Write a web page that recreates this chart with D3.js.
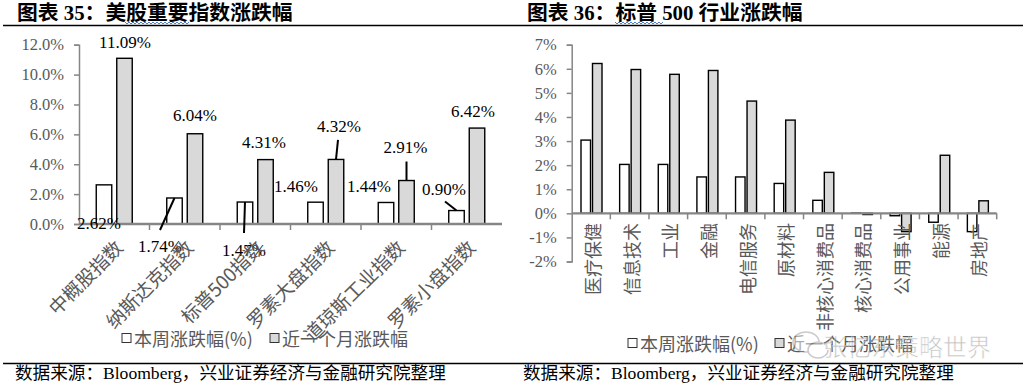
<!DOCTYPE html>
<html lang="zh">
<head>
<meta charset="UTF-8">
<title>美股重要指数涨跌幅 / 标普500行业涨跌幅</title>
<script src="https://d3js.org/d3.v7.min.js"></script>
<style>
    body {
        margin: 0;
        background: #fff;
    }
    .title {
        font-family: "Liberation Serif", "Noto Sans CJK SC", serif;
        font-size: 20.8px;
        font-weight: bold;
    }
    .source {
        font-family: "Liberation Serif", "Noto Sans CJK SC", serif;
        font-size: 17.6px;
    }
    .tick text {
        font-family: "Liberation Serif", serif;
        font-size: 16.5px;
        fill: #595959;
    }
    .catLabel, .legend {
        font-family: "Noto Sans CJK SC", sans-serif;
        fill: #595959;
    }
    .valLabel {
        font-family: "Liberation Serif", serif;
        font-size: 17px;
        text-anchor: middle;
    }
</style>
</head>
<body>
<script>
    // ---- data ----
    const indexNames = ["中概股指数", "纳斯达克指数", "标普500指数", "罗素大盘指数", "道琼斯工业指数", "罗素小盘指数"];
    const indexWeek = [2.62, 1.74, 1.47, 1.46, 1.44, 0.90];
    const indexMonth = [11.09, 6.04, 4.31, 4.32, 2.91, 6.42];

    const sectorNames = ["医疗保健", "信息技术", "工业", "金融", "电信服务", "原材料", "非核心消费品", "核心消费品", "公用事业", "能源", "房地产"];
    const sectorWeek = [3.04, 2.03, 2.03, 1.51, 1.51, 1.24, 0.54, 0.01, -0.10, -0.37, -0.76];
    const sectorMonth = [6.22, 5.97, 5.77, 5.93, 4.66, 3.87, 1.70, -0.05, -0.76, 2.41, 0.52];

    const seriesNames = ["本周涨跌幅(%)", "近一个月涨跌幅"];
    const leftTicks = [0, 2, 4, 6, 8, 10, 12];
    const rightTicks = [-2, -1, 0, 1, 2, 3, 4, 5, 6, 7];

    // label placement for the left chart (offset from bar top, leader start)
    const weekLabelPos = [
        { dx: -5, dy: 39 }, { dx: -14.5, dy: 48.7, lead: [-14.5, 32] }, { dx: -1, dy: 48, lead: [-1, 31] },
        { dx: -19.5, dy: -15.5 }, { dx: -17, dy: -16 }, { dx: -12.5, dy: -20.6, lead: [-11.5, -9] }
    ];
    const monthLabelPos = [
        { dx: 0.5, dy: -16 }, { dx: 0, dy: -18 }, { dx: -1.5, dy: -17 },
        { dx: 3, dy: -32.6, lead: [2, -19.6] }, { dx: -1, dy: -32.6, lead: [0, -19] }, { dx: -4, dy: -17 }
    ];

    const svg = d3.select("body").append("svg")
        .attr("width", 1033)
        .attr("height", 392);

    const axisColor = "#868686";
    const greyFill = "#d9d9d9";

    // ---- frame: titles, rules, source ----
    svg.append("text").attr("class", "title").attr("x", 17).attr("y", 20).text("图表 35：美股重要指数涨跌幅");
    svg.append("text").attr("class", "title").attr("x", 527).attr("y", 20).text("图表 36：标普 500 行业涨跌幅");

    function squiggle(x0, x1, y) {
        let d = "M" + x0 + "," + y;
        for (let x = x0; x < x1; x += 4) {
            d += " L" + (x + 2) + "," + (y + 2) + " L" + (x + 4) + "," + y;
        }
        svg.append("path").attr("d", d).attr("fill", "none")
            .attr("stroke", "#4f81d6").attr("stroke-width", 1);
    }
    squiggle(125, 188, 22);
    squiggle(615, 660, 22);

    svg.append("line").attr("x1", 3).attr("x2", 1023).attr("y1", 25.5).attr("y2", 25.5)
        .attr("stroke", "#000").attr("stroke-width", 1.5);
    svg.append("line").attr("x1", 3).attr("x2", 1023).attr("y1", 363.5).attr("y2", 363.5)
        .attr("stroke", "#000").attr("stroke-width", 1.5);

    svg.append("text").attr("class", "source").attr("x", 15).attr("y", 379)
        .text("数据来源：Bloomberg，兴业证券经济与金融研究院整理");
    svg.append("text").attr("class", "source").attr("x", 523).attr("y", 379)
        .text("数据来源：Bloomberg，兴业证券经济与金融研究院整理");

    // ---- shared helpers ----
    function drawYAxis(y, x0, ticks, fmt) {
        const g = svg.append("g")
            .attr("transform", "translate(" + x0 + ",0)")
            .call(d3.axisLeft(y).tickValues(ticks).tickFormat(fmt).tickSize(5).tickPadding(10));
        g.select(".domain").attr("stroke", axisColor).attr("stroke-width", 1.5);
        g.selectAll(".tick line").attr("stroke", axisColor).attr("stroke-width", 1.5);
        return g;
    }

    function drawBars(x, xs, y, names, week, month) {
        const rows = names.map((n, i) => ({ name: n, v: [week[i], month[i]] }));
        rows.forEach(r => {
            r.v.forEach((v, k) => {
                svg.append("rect")
                    .attr("x", x(r.name) + xs(k))
                    .attr("y", y(Math.max(0, v)))
                    .attr("width", xs.bandwidth())
                    .attr("height", Math.abs(y(v) - y(0)))
                    .attr("fill", k === 0 ? "#fff" : greyFill)
                    .attr("stroke", "#000")
                    .attr("stroke-width", 1.4);
            });
        });
    }

    function drawXAxisLine(x, y, names, tickLen, width, withEnd) {
        const r = x.range();
        svg.append("line")
            .attr("x1", r[0]).attr("x2", r[1])
            .attr("y1", y(0)).attr("y2", y(0))
            .attr("stroke", axisColor).attr("stroke-width", width);
        names.forEach((n, i) => {
            if (i === 0) return;
            const tx = x(n);
            svg.append("line").attr("x1", tx).attr("x2", tx)
                .attr("y1", y(0)).attr("y2", y(0) + tickLen)
                .attr("stroke", axisColor).attr("stroke-width", 1.5);
        });
        if (withEnd) {
            svg.append("line").attr("x1", r[1]).attr("x2", r[1])
                .attr("y1", y(0)).attr("y2", y(0) + tickLen)
                .attr("stroke", axisColor).attr("stroke-width", 1.5);
        }
    }

    function drawLegend(x0, y0, gap) {
        seriesNames.forEach((s, k) => {
            const lx = x0 + k * gap;
            svg.append("rect")
                .attr("x", lx).attr("y", y0 - 4.5)
                .attr("width", 9).attr("height", 9)
                .attr("fill", k === 0 ? "#fff" : greyFill)
                .attr("stroke", "#333").attr("stroke-width", 1);
            svg.append("text").attr("class", "legend")
                .attr("x", lx + 12).attr("y", y0)
                .attr("dominant-baseline", "central")
                .attr("font-size", 18)
                .text(s);
        });
    }

    // ---- left chart: major US indices ----
    const xL = d3.scaleBand().domain(indexNames).range([79, 502]);
    const xLs = d3.scaleBand().domain([0, 1])
        .range([17.25, 53.25]).paddingInner(0.244);
    const yL = d3.scaleLinear().domain([0, 12]).range([224, 44.7]);

    drawYAxis(yL, 79, leftTicks, d => d.toFixed(1) + "%");
    drawBars(xL, xLs, yL, indexNames, indexWeek, indexMonth);
    drawXAxisLine(xL, yL, indexNames, 6, 2.5, false);

    // data labels with leader lines
    [indexWeek, indexMonth].forEach((vals, k) => {
        const pos = k === 0 ? weekLabelPos : monthLabelPos;
        vals.forEach((v, i) => {
            const cx = xL(indexNames[i]) + xLs(k) + xLs.bandwidth() / 2;
            const cy = yL(v);
            const p = pos[i];
            if (p.lead) {
                svg.append("line")
                    .attr("x1", cx + p.lead[0]).attr("y1", cy + p.lead[1])
                    .attr("x2", cx).attr("y2", cy)
                    .attr("stroke", "#000").attr("stroke-width", 2);
            }
            svg.append("text").attr("class", "valLabel")
                .attr("x", cx + p.dx).attr("y", cy + p.dy)
                .attr("dominant-baseline", "central")
                .text(v.toFixed(2) + "%");
        });
    });

    indexNames.forEach(n => {
        const px = xL(n) + xL.bandwidth() / 2 + 4;
        const py = yL(0) + 19;
        svg.append("text").attr("class", "catLabel")
            .attr("font-size", 19)
            .attr("text-anchor", "end")
            .attr("dominant-baseline", "central")
            .attr("transform", "translate(" + px + "," + py + ") rotate(-45)")
            .text(n);
    });

    drawLegend(122, 338, 148);

    // ---- right chart: S&P 500 sectors ----
    const xR = d3.scaleBand().domain(sectorNames).range([571.7, 996.7]);
    const xRs = d3.scaleBand().domain([0, 1])
        .range([9.3, 30.3]).paddingInner(0.174);
    const yR = d3.scaleLinear().domain([-2, 7]).range([261.5, 44.7]);

    drawYAxis(yR, 571.7, rightTicks, d => d + "%");
    drawBars(xR, xRs, yR, sectorNames, sectorWeek, sectorMonth);
    drawXAxisLine(xR, yR, sectorNames, 6, 2.2, true);

    sectorNames.forEach(n => {
        const px = xR(n) + xR.bandwidth() / 2 + 1;
        svg.append("text").attr("class", "catLabel")
            .attr("font-size", 18)
            .attr("text-anchor", "end")
            .attr("dominant-baseline", "central")
            .attr("transform", "translate(" + px + "," + 223 + ") rotate(-90)")
            .text(n);
    });

    drawLegend(628, 343, 147);

    // ---- watermark ----
    const wm = svg.append("g").attr("opacity", 0.5);
    wm.append("ellipse").attr("cx", 806).attr("cy", 342).attr("rx", 13).attr("ry", 10)
        .attr("fill", "#fff").attr("stroke", "#999").attr("stroke-width", 1.5);
    wm.append("ellipse").attr("cx", 818).attr("cy", 350).attr("rx", 10).attr("ry", 8)
        .attr("fill", "#fff").attr("stroke", "#999").attr("stroke-width", 1.5);
    wm.append("text")
        .attr("x", 823).attr("y", 345)
        .attr("dominant-baseline", "central")
        .attr("font-family", "Noto Sans CJK SC, sans-serif")
        .attr("font-size", 24)
        .attr("fill", "#8a8a8a")
        .attr("stroke", "#fff").attr("stroke-width", 0.6)
        .text("张忆东策略世界");
</script>
</body>
</html>
